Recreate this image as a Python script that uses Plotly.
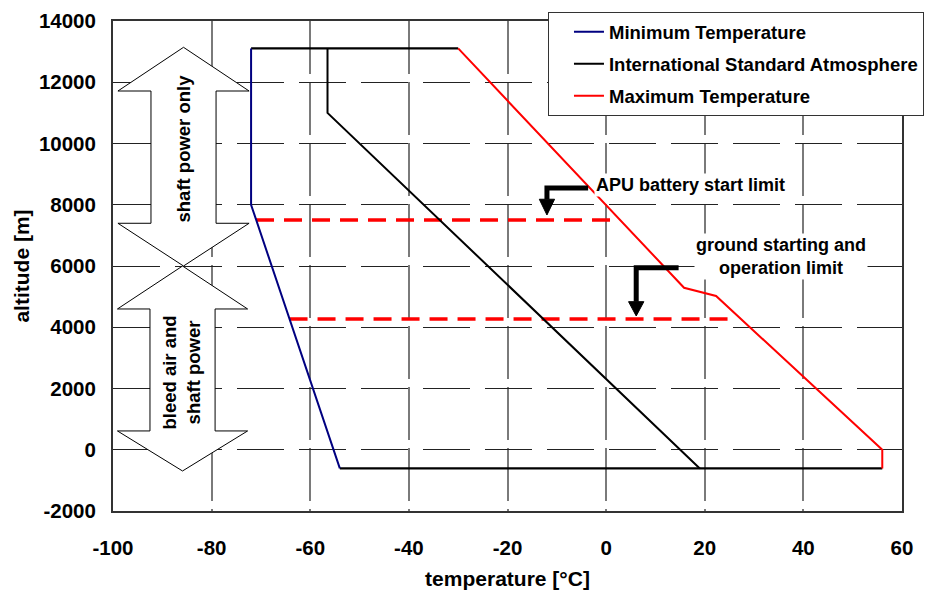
import plotly.graph_objects as go

FONT = "Liberation Sans, Arial, sans-serif"

# ---- data (temperature in °C, altitude in m) ----
min_temp_t = [-72, -72, -54]
min_temp_alt = [13106, 8000, -610]

isa_t = [-56.5, -56.5, 19]
isa_alt = [13106, 11000, -610]

max_temp_t = [-30, 15.8, 22.3, 56, 56]
max_temp_alt = [13106, 5290, 5020, 0, -610]

# envelope closing lines (ceiling and lowest airfield)
ceiling_t = [min_temp_t[0], max_temp_t[0]]
ceiling_alt = [13106, 13106]
floor_t = [min_temp_t[-1], max_temp_t[-2]]
floor_alt = [-610, -610]

# start limits: APU battery start and ground starting/operation
limit_names = ["APU battery start limit", "ground starting and<br>operation limit"]
limit_alt = [7500, 4270]
limit_t_from = [-71.0, -64.2]
limit_t_to = [1.0, 25.5]

x_ticks = [-100, -80, -60, -40, -20, 0, 20, 40, 60]
x_ticklabels = ["-100", "-80", "-60", "-40", "-20", "0", "20", "40", "60"]
y_ticks = [-2000, 0, 2000, 4000, 6000, 8000, 10000, 12000, 14000]
y_ticklabels = ["-2000", "0", "2000", "4000", "6000", "8000", "10000", "12000", "14000"]

fig = go.Figure()

# dashed limit lines
for alt, t0, t1 in zip(limit_alt, limit_t_from, limit_t_to):
    fig.add_trace(go.Scatter(
        x=[t0, t1], y=[alt, alt], mode="lines", showlegend=False,
        line=dict(color="#ff0000", width=3.5, dash="18px,10px"),
        hoverinfo="skip"))

# envelope lines
fig.add_trace(go.Scatter(x=ceiling_t, y=ceiling_alt, mode="lines", showlegend=False,
                         line=dict(color="black", width=2.2), hoverinfo="skip"))
fig.add_trace(go.Scatter(x=floor_t, y=floor_alt, mode="lines", showlegend=False,
                         line=dict(color="black", width=2.2), hoverinfo="skip"))

fig.add_trace(go.Scatter(x=min_temp_t, y=min_temp_alt, mode="lines",
                         name="Minimum Temperature", legendgroup="a",
                         line=dict(color="#000080", width=2)))
fig.add_trace(go.Scatter(x=isa_t, y=isa_alt, mode="lines",
                         name="International Standard Atmosphere", legendgroup="b",
                         line=dict(color="black", width=2)))
fig.add_trace(go.Scatter(x=max_temp_t, y=max_temp_alt, mode="lines",
                         name="Maximum Temperature", legendgroup="c",
                         line=dict(color="#ff0000", width=2)))


def double_arrow(cx, top, top_base, bot_base, bot, head_hw, shaft_hw):
    """Path of a vertical double-headed block arrow in data units."""
    pts = [
        (cx, top), (cx + head_hw, top_base), (cx + shaft_hw, top_base),
        (cx + shaft_hw, bot_base), (cx + head_hw, bot_base), (cx, bot),
        (cx - head_hw, bot_base), (cx - shaft_hw, bot_base),
        (cx - shaft_hw, top_base), (cx - head_hw, top_base),
    ]
    return "M " + " L ".join(f"{x},{y}" for x, y in pts) + " Z"


shapes = [
    dict(type="path", xref="x", yref="y", layer="above",
         path=double_arrow(-85.7, 13141, 11714, 7395, 6000, 13.3, 6.6),
         fillcolor="white", line=dict(color="black", width=1)),
    dict(type="path", xref="x", yref="y", layer="above",
         path=double_arrow(-85.9, 6000, 4597, 614, -693, 13.2, 6.6),
         fillcolor="white", line=dict(color="black", width=1)),
]


def elbow_arrow(x0, x1, y0, head_base, tip, head_hw):
    return [
        dict(type="path", xref="x", yref="y", layer="above",
             path=f"M {x0},{y0} L {x1},{y0} L {x1},{head_base}",
             line=dict(color="black", width=5)),
        dict(type="path", xref="x", yref="y", layer="above",
             path=f"M {x1 - head_hw},{head_base} L {x1 + head_hw},{head_base} L {x1},{tip} Z",
             fillcolor="black", line=dict(color="black", width=1)),
    ]


shapes += elbow_arrow(-3.65, -12.0, 8547, 8180, 7666, 1.55)
shapes += elbow_arrow(14.7, 6.1, 5945, 4835, 4368, 1.55)

annotations = [
    dict(x=17.2, y=8645, xref="x", yref="y", text=limit_names[0], showarrow=False,
         bgcolor="white", font=dict(family=FONT, size=18, color="black", weight="bold")),
    dict(x=35.5, y=6304, xref="x", yref="y", text=limit_names[1], showarrow=False,
         bgcolor="white", font=dict(family=FONT, size=18, color="black", weight="bold")),
    dict(x=-85.7, y=9821, xref="x", yref="y", text="shaft power only", showarrow=False,
         textangle=-90, font=dict(family=FONT, size=18.5, color="black", weight="bold")),
    dict(x=-86.2, y=2523, xref="x", yref="y", text="bleed air and<br>shaft power",
         showarrow=False, textangle=-90,
         font=dict(family=FONT, size=18.5, color="black", weight="bold")),
]

fig.update_layout(
    width=940, height=590,
    margin=dict(l=113, r=38, t=21, b=79, autoexpand=False),
    paper_bgcolor="white", plot_bgcolor="white",
    font=dict(family=FONT, color="black"),
    shapes=shapes, annotations=annotations,
    legend=dict(
        x=0.5513, y=1.018, xanchor="left", yanchor="top",
        bgcolor="white", bordercolor="#333", borderwidth=1,
        font=dict(family=FONT, size=18.5, color="black", weight="bold"),
        tracegroupgap=5, traceorder="grouped", indentation=20,
    ),
    xaxis=dict(
        range=[-100, 60], tickvals=x_ticks, ticktext=x_ticklabels,
        ticks="", ticklabelstandoff=17,
        tickfont=dict(family=FONT, size=20.5, color="black", weight="bold"),
        showgrid=True, gridcolor="#7a7a7a", gridwidth=1.5, griddash="53px,8px",
        zeroline=False, showline=True, linecolor="#333", linewidth=2, mirror=True,
        title=dict(text="temperature [°C]", standoff=14,
                   font=dict(family=FONT, size=21, color="black", weight="bold")),
    ),
    yaxis=dict(
        range=[-2000, 14000], tickvals=y_ticks, ticktext=y_ticklabels,
        ticks="", ticklabelstandoff=11,
        tickfont=dict(family=FONT, size=20.5, color="black", weight="bold"),
        showgrid=True, gridcolor="#222", gridwidth=1, griddash="47px,15px",
        zeroline=False, showline=True, linecolor="#333", linewidth=2, mirror=True,
        title=dict(text="altitude [m]", standoff=4,
                   font=dict(family=FONT, size=21, color="black", weight="bold")),
    ),
)

fig.write_html("out.html")
